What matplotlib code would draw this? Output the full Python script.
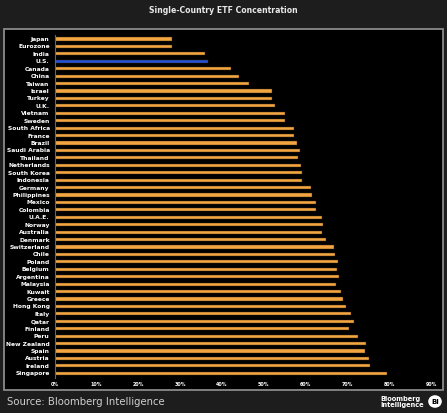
import matplotlib
matplotlib.use("Agg")
import matplotlib.pyplot as plt
from matplotlib.patches import Rectangle, Circle

countries = ["Japan", "Eurozone", "India", "U.S.", "Canada", "China", "Taiwan", "Israel",
             "Turkey", "U.K.", "Vietnam", "Sweden", "South Africa", "France", "Brazil",
             "Saudi Arabia", "Thailand", "Netherlands", "South Korea", "Indonesia", "Germany",
             "Philippines", "Mexico", "Colombia", "U.A.E.", "Norway", "Australia", "Denmark",
             "Switzerland", "Chile", "Poland", "Belgium", "Argentina", "Malaysia", "Kuwait",
             "Greece", "Hong Kong", "Italy", "Qatar", "Finland", "Peru", "New Zealand",
             "Spain", "Austria", "Ireland", "Singapore"]
concentration = [0.280, 0.280, 0.360, 0.366, 0.423, 0.442, 0.465, 0.519,
                 0.520, 0.528, 0.550, 0.550, 0.573, 0.573, 0.579,
                 0.587, 0.583, 0.589, 0.591, 0.591, 0.612,
                 0.615, 0.625, 0.624, 0.640, 0.642, 0.640, 0.648,
                 0.669, 0.670, 0.677, 0.675, 0.681, 0.674, 0.685,
                 0.689, 0.697, 0.708, 0.715, 0.704, 0.725, 0.745,
                 0.742, 0.752, 0.753, 0.795]
highlight = "U.S."
xticks = [0, 0.1, 0.2, 0.3, 0.4, 0.5, 0.6, 0.7, 0.8, 0.9]
xticklabels = ["0%", "10%", "20%", "30%", "40%", "50%", "60%", "70%", "80%", "90%"]

W, H = 447, 413
fig = plt.figure(figsize=(W / 100, H / 100), dpi=100)
fig.patch.set_facecolor("#1d1d1d")

# panel
panel = Rectangle((3.5 / W, 1 - 390 / H), (443 - 3.5) / W, (390 - 29) / H,
                  transform=fig.transFigure, facecolor="black", edgecolor="#8a8a8a",
                  linewidth=1.3, zorder=-5)
fig.patches.append(panel)

ax = fig.add_axes([54.5 / W, 1 - 377.8 / H, (431 - 54.5) / W, (377.8 - 34.5) / H])
ax.set_zorder(2)
ax.set_facecolor("black")
ax.patch.set_alpha(0)

ypos = list(range(len(countries)))
colors = ["#2450d8" if c == highlight else "#f2a541" for c in countries]
ax.barh(ypos, concentration, height=0.42, color=colors, edgecolor="#3a2a10", linewidth=0.3)
ax.set_ylim(len(countries) - 0.4, -0.6)
ax.set_xlim(0, 0.9)

ax.set_yticks(ypos)
ax.set_yticklabels(countries, fontsize=4.3, fontweight="bold", color="white")
ax.set_xticks(xticks)
ax.set_xticklabels(xticklabels, fontsize=3.4, fontweight="bold", color="white")
ax.tick_params(axis="y", length=0, pad=3.5)
ax.tick_params(axis="x", length=0, pad=3)
for s in ["top", "right", "bottom"]:
    ax.spines[s].set_visible(False)
ax.spines["left"].set_color("#4d6d7d")
ax.spines["left"].set_linewidth(0.8)

fig.text(223.5 / W, 1 - 10.5 / H, "Single-Country ETF Concentration", ha="center", va="center",
         fontsize=5.6, fontweight="bold", color="#e8e8e8")
fig.text(7 / W, 1 - 402 / H, "Source: Bloomberg Intelligence", ha="left", va="center",
         fontsize=7.3, color="#cfcfcf")
fig.text(380 / W, 1 - 402 / H, "Bloomberg\nIntelligence", ha="left", va="center",
         fontsize=4.8, fontweight="bold", color="white", linespacing=0.95)
circ = Circle((435 / W, 1 - 401.5 / H), 6.8 / W, transform=fig.transFigure,
              facecolor="white", edgecolor="none", zorder=5)
fig.patches.append(circ)
fig.text(435 / W, 1 - 401.5 / H, "BI", ha="center", va="center", fontsize=5,
         fontweight="bold", color="black", zorder=6)

fig.savefig("out.png", dpi=100, facecolor=fig.get_facecolor())
